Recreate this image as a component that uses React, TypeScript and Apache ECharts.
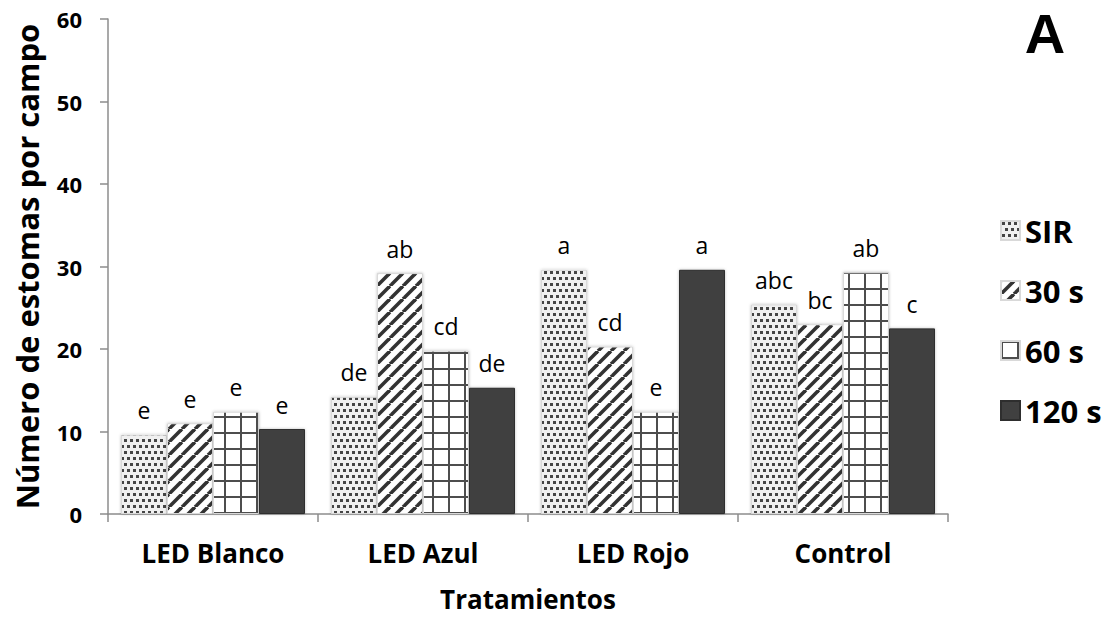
import React, { useEffect, useRef } from "react";
import * as echarts from "echarts";

const categories = ["LED Blanco", "LED Azul", "LED Rojo", "Control"];
const seriesNames = ["SIR", "30 s", "60 s", "120 s"];
const sirValues = [9.6, 14.2, 29.6, 25.4];
const s30Values = [11.0, 29.2, 20.3, 23.0];
const s60Values = [12.4, 19.8, 12.4, 29.3];
const s120Values = [10.3, 15.3, 29.6, 22.5];
const sirLetters = ["e", "de", "a", "abc"];
const s30Letters = ["e", "ab", "cd", "bc"];
const s60Letters = ["e", "cd", "e", "ab"];
const s120Letters = ["e", "de", "a", "c"];
const yTicks = [0, 10, 20, 30, 40, 50, 60];

const FONT = "'Open Sans', 'Noto Sans', sans-serif";

function tile(size: number, draw: (ctx: CanvasRenderingContext2D) => void) {
  const c = document.createElement("canvas");
  c.width = size;
  c.height = size;
  const ctx = c.getContext("2d")!;
  draw(ctx);
  return c;
}

// staggered small squares
function dottedPattern() {
  return tile(12, (ctx) => {
    ctx.fillStyle = "#f0f0f0";
    ctx.fillRect(0, 0, 12, 12);
    ctx.fillStyle = "#454545";
    ctx.fillRect(1, 1, 3, 3);
    ctx.fillRect(7, 1, 3, 3);
    ctx.fillRect(4, 7, 3, 3);
    ctx.fillRect(10, 7, 2, 3);
    ctx.fillRect(0, 7, 1, 3);
  });
}

// "/" diagonal stripes
function stripePattern() {
  const s = 13;
  return tile(s, (ctx) => {
    ctx.fillStyle = "#ffffff";
    ctx.fillRect(0, 0, s, s);
    ctx.strokeStyle = "#333333";
    ctx.lineWidth = 3.6;
    for (const off of [-s, 0, s]) {
      ctx.beginPath();
      ctx.moveTo(off, s);
      ctx.lineTo(off + s, 0);
      ctx.stroke();
    }
  });
}

// square grid
function gridPattern() {
  const s = 16;
  return tile(s, (ctx) => {
    ctx.fillStyle = "#ffffff";
    ctx.fillRect(0, 0, s, s);
    ctx.fillStyle = "#4d4d4d";
    ctx.fillRect(0, 0, s, 2);
    ctx.fillRect(0, 0, 2, s);
  });
}

export default function App() {
  const ref = useRef<HTMLDivElement>(null);

  useEffect(() => {
    if (!ref.current) return;
    const chart = echarts.init(ref.current, undefined, { renderer: "svg" });

    const fills: any[] = [
      { image: dottedPattern(), repeat: "repeat" },
      { image: stripePattern(), repeat: "repeat" },
      { image: gridPattern(), repeat: "repeat" },
      "#404040",
    ];
    const values = [sirValues, s30Values, s60Values, s120Values];
    const letters = [sirLetters, s30Letters, s60Letters, s120Letters];

    const series = seriesNames.map((name, i) => ({
      name,
      type: "bar",
      barWidth: 46,
      barGap: "0%",
      data: values[i],
      itemStyle: {
        color: fills[i],
        borderColor: i === 3 ? "#2e2e2e" : "#d9d9d9",
        borderWidth: 1,
        shadowBlur: 3,
        shadowColor: "rgba(0,0,0,0.25)",
      },
      label: {
        show: true,
        position: "top",
        distance: 13,
        formatter: (p: any) => letters[i][p.dataIndex],
        fontFamily: FONT,
        fontSize: 23,
        color: "#000",
      },
    }));

    chart.setOption({
      animation: false,
      backgroundColor: "#ffffff",
      grid: { left: 108, right: 162, top: 19, bottom: 103 },
      graphic: [
        {
          type: "text",
          x: 1045,
          y: 33,
          style: {
            text: "A",
            font: "bold 56px 'Liberation Sans', Arial, sans-serif",
            fill: "#000",
            align: "center",
            verticalAlign: "middle",
          },
        },
      ],
      legend: {
        orient: "vertical",
        left: 995,
        top: 210,
        itemWidth: 19,
        itemHeight: 19,
        itemGap: 29,
        icon: "rect",
        data: seriesNames,
        textStyle: {
          fontFamily: FONT,
          fontWeight: "bold",
          fontSize: 31,
          color: "#000",
          padding: [0, 0, 0, 0],
        },
      },
      xAxis: {
        type: "category",
        data: categories,
        name: "Tratamientos",
        nameLocation: "middle",
        nameGap: 72,
        nameTextStyle: {
          fontFamily: FONT,
          fontWeight: "bold",
          fontSize: 26,
          color: "#000",
        },
        axisLine: { lineStyle: { color: "#8c8c8c", width: 1.5 } },
        axisTick: {
          show: true,
          length: 8,
          alignWithLabel: false,
          lineStyle: { color: "#8c8c8c", width: 1.5 },
        },
        axisLabel: {
          fontFamily: FONT,
          fontWeight: "bold",
          fontSize: 26,
          color: "#000",
          margin: 26,
        },
      },
      yAxis: {
        type: "value",
        min: yTicks[0],
        max: yTicks[yTicks.length - 1],
        interval: 10,
        name: "Número de estomas por campo",
        nameLocation: "middle",
        nameGap: 66,
        nameTextStyle: {
          fontFamily: FONT,
          fontWeight: "bold",
          fontSize: 31,
          color: "#000",
        },
        splitLine: { show: false },
        axisLine: { show: true, lineStyle: { color: "#8c8c8c", width: 1.5 } },
        axisTick: { show: true, length: 8, lineStyle: { color: "#8c8c8c", width: 1.5 } },
        axisLabel: {
          fontFamily: FONT,
          fontWeight: "bold",
          fontSize: 22,
          color: "#000",
          margin: 26,
        },
      },
      series,
    });

    return () => chart.dispose();
  }, []);

  return <div ref={ref} style={{ width: 1110, height: 617, margin: -8 }} />;
}
